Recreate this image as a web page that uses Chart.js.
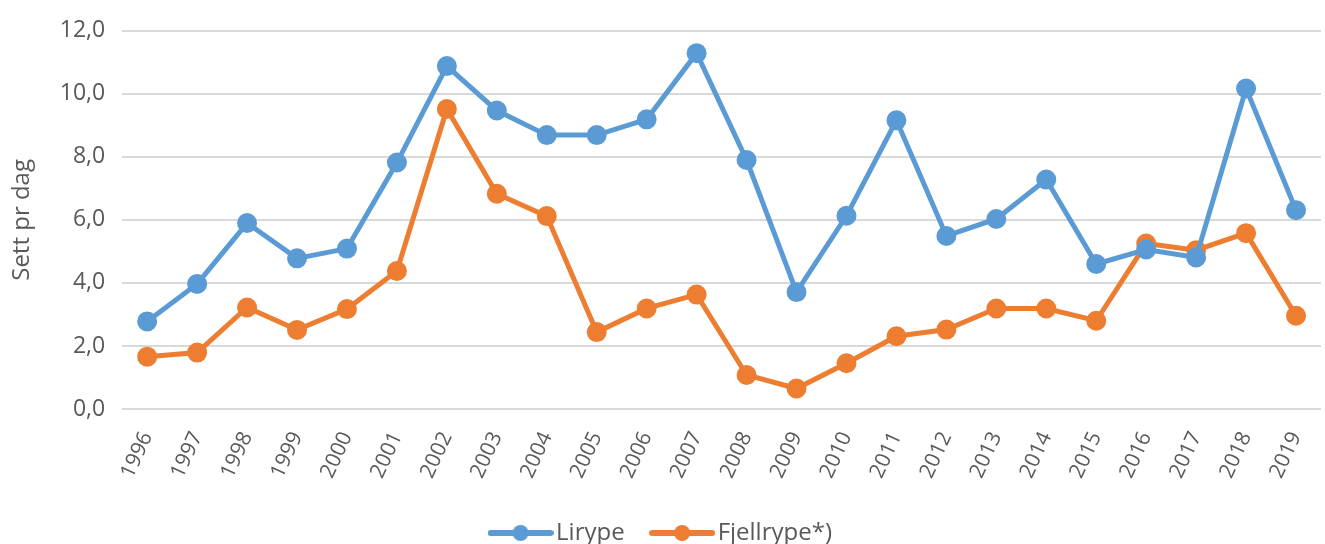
<!DOCTYPE html>
<html>
<head>
<meta charset="utf-8">
<script src="https://cdn.jsdelivr.net/npm/chart.js@4"></script>
<style>
html,body{margin:0;padding:0;background:#fff;}
#wrap{width:1325px;height:544px;position:relative;}
</style>
</head>
<body>
<div id="wrap"><canvas id="c" width="1325" height="544"></canvas></div>
<script>
const years = ['1996','1997','1998','1999','2000','2001','2002','2003','2004','2005','2006','2007','2008','2009','2010','2011','2012','2013','2014','2015','2016','2017','2018','2019'];
const lirype = [2.78,3.97,5.90,4.78,5.09,7.82,10.88,9.47,8.69,8.69,9.19,11.29,7.90,3.71,6.13,9.16,5.49,6.03,7.28,4.60,5.06,4.81,10.17,6.31];
const fjellrype = [1.66,1.79,3.22,2.51,3.17,4.38,9.52,6.83,6.12,2.44,3.19,3.63,1.08,0.65,1.45,2.31,2.52,3.19,3.19,2.80,5.25,5.04,5.58,2.96];
const seriesNames = ['Lirype','Fjellrype*)'];
const yTicks = [0,2,4,6,8,10,12];

const BLUE = '#5B9BD5', ORANGE = '#ED7D31', TEXT = '#595959', FONT = '"Open Sans", Lato, sans-serif';

function legendIcon(color){
  const cv = document.createElement('canvas');
  cv.width = 66; cv.height = 18;
  const g = cv.getContext('2d');
  g.strokeStyle = color; g.lineWidth = 6; g.lineCap = 'round';
  g.beginPath(); g.moveTo(3,9); g.lineTo(63,9); g.stroke();
  g.fillStyle = color; g.beginPath(); g.arc(33,9,8,0,Math.PI*2); g.fill();
  return cv;
}

new Chart(document.getElementById('c'), {
  type: 'line',
  data: {
    labels: years,
    datasets: [
      {label: seriesNames[0], data: lirype, borderColor: BLUE, backgroundColor: BLUE, borderWidth: 5, pointRadius: 7.5, pointHoverRadius: 7.5, tension: 0, clip: false},
      {label: seriesNames[1], data: fjellrype, borderColor: ORANGE, backgroundColor: ORANGE, borderWidth: 5, pointRadius: 7.5, pointHoverRadius: 7.5, tension: 0, clip: false}
    ]
  },
  options: {
    responsive: false,
    animation: false,
    layout: {autoPadding: false, padding: {left: 8, right: 4, top: -21, bottom: -11}},
    plugins: {
      tooltip: {enabled: false},
      legend: {
        position: 'bottom',
        labels: {
          color: TEXT,
          font: {family: FONT, size: 24},
          usePointStyle: true,
          pointStyleWidth: 47,
          padding: 34,
          generateLabels: (chart) => chart.data.datasets.map((ds, i) => ({
            text: ds.label,
            fillStyle: ds.borderColor,
            strokeStyle: ds.borderColor,
            fontColor: TEXT,
            lineWidth: 0,
            pointStyle: legendIcon(ds.borderColor),
            hidden: false,
            datasetIndex: i
          }))
        }
      }
    },
    scales: {
      x: {
        offset: true,
        grid: {display: false},
        border: {display: false},
        afterFit: (scale) => { scale.height = 78; scale.paddingRight = 0; },
        ticks: {color: TEXT, font: {family: FONT, size: 21}, minRotation: 65, maxRotation: 65, padding: 11}
      },
      y: {
        min: 0, max: 12,
        afterBuildTicks: (axis) => { axis.ticks = yTicks.map(v => ({value: v})); },
        grid: {color: '#d9d9d9', lineWidth: 2, drawTicks: false},
        border: {display: false},
        ticks: {color: TEXT, font: {family: FONT, size: 23}, padding: 17,
          callback: (v) => v.toFixed(1).replace('.', ',')},
        title: {display: true, text: 'Sett pr dag', color: TEXT, font: {family: FONT, size: 24}, padding: {top: 0, bottom: 6}}
      }
    }
  }
});
</script>
</body>
</html>
